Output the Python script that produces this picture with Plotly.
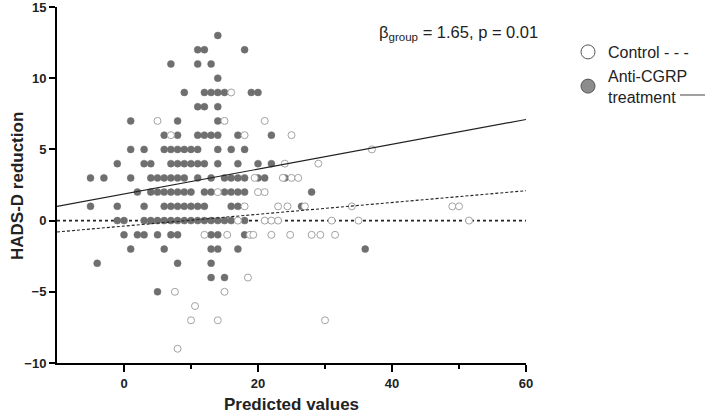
import plotly.graph_objects as go

# ---------------- data ----------------
# Anti-CGRP treatment (filled): x values per integer y level
treat_rows = {
    13: [14],
    12: [11, 12, 18],
    11: [7, 11, 13],
    10: [14],
    9: [9, 12, 13, 14, 15, 19, 20],
    8: [11, 12, 14],
    7: [1, 8, 14],
    6: [6, 8, 11, 12, 13, 14, 17, 22],
    5: [1, 3, 6, 7, 8, 9, 10, 11, 14, 16, 18],
    4: [-1, 3, 4, 7, 8, 9, 10, 11, 12, 14, 17, 20, 22],
    3: [-5, -3, 1, 4, 5, 6, 7, 8, 9, 11, 13, 15, 16, 17, 18, 20, 21, 24],
    2: [2, 4, 5, 6, 7, 8, 9, 10, 12, 13, 15, 16, 17, 18, 28],
    1: [-5, -1, 3, 6, 7, 8, 9, 10, 11, 12, 16, 17, 26.5],
    0: [-1, 0, 3, 4, 5, 6, 7, 8, 9, 10, 11, 12, 13, 14, 15, 16, 18],
    -1: [0, 2, 3, 5, 7, 8, 13, 14, 18],
    -2: [1, 6, 13, 14, 17, 36],
    -3: [-4, 8, 13],
    -4: [13, 15],
    -5: [5],
}
# Control (open)
control_rows = {
    9: [16],
    7: [5, 15, 21],
    6: [7, 18, 25],
    5: [37],
    4: [24, 29],
    3: [19.5, 23.7, 25, 26],
    2: [14, 20, 21],
    1: [18, 23, 24.4, 27, 34, 49, 50],
    0: [17, 21, 22, 23, 31, 35, 51.5],
    -1: [12, 15.4, 18.8, 19.3, 22, 24.8, 28, 29.3, 31.5],
    -4: [18.5],
    -5: [7.6, 15],
    -6: [10.6],
    -7: [10, 14, 30],
    -9: [8],
}
treat_x = [x for y, xs in treat_rows.items() for x in xs]
treat_y = [y for y, xs in treat_rows.items() for x in xs]
control_x = [x for y, xs in control_rows.items() for x in xs]
control_y = [y for y, xs in control_rows.items() for x in xs]

fit_x = [-10, 60]
treat_fit_y = [1.0, 7.1]
control_fit_y = [-0.8, 2.1]
zero_y = [0, 0]

x_ticks = [0, 20, 40, 60]
x_minor = [10, 30, 50]
y_ticks = [-10, -5, 0, 5, 10, 15]

FONT = "Liberation Sans, Arial, sans-serif"

# plot area in screen pixels
W, H = 709, 416
L, R, T, B = 57, 526, 7, 363
PW, PH = R - L, B - T


def px(xp):
    return (xp - L) / PW


def py(yp):
    return 1 - (yp - T) / PH


fig = go.Figure()
fig.add_trace(go.Scatter(x=fit_x, y=zero_y, mode="lines",
                         line=dict(color="#222", width=1.6, dash="dot"),
                         showlegend=False, hoverinfo="skip"))
fig.add_trace(go.Scatter(x=treat_x, y=treat_y, mode="markers",
                         marker=dict(size=7, color="#6f6f6f",
                                     line=dict(color="#6f6f6f", width=0.5)),
                         showlegend=False))
fig.add_trace(go.Scatter(x=control_x, y=control_y, mode="markers",
                         marker=dict(size=7, color="white",
                                     line=dict(color="#a3a3a3", width=1)),
                         showlegend=False))
fig.add_trace(go.Scatter(x=fit_x, y=treat_fit_y, mode="lines",
                         line=dict(color="#222", width=1.2),
                         showlegend=False, hoverinfo="skip"))
fig.add_trace(go.Scatter(x=fit_x, y=control_fit_y, mode="lines",
                         line=dict(color="#222", width=1.1, dash="3px,2px"),
                         showlegend=False, hoverinfo="skip"))

# legend entries
fig.add_trace(go.Scatter(x=[None], y=[None], mode="markers", name="Control - - -",
                         marker=dict(size=14, color="white",
                                     line=dict(color="#555", width=1))))
fig.add_trace(go.Scatter(x=[None], y=[None], mode="markers",
                         name="Anti-CGRP<br>treatment",
                         marker=dict(size=14, color="#8c8c8c",
                                     line=dict(color="#555", width=1))))

fig.add_annotation(xref="paper", yref="paper", x=px(377), y=py(33),
                   xanchor="left", yanchor="middle", showarrow=False,
                   text="β<sub>group</sub> = 1.65, p = 0.01",
                   font=dict(family=FONT, size=16.5, color="#222"))

# y-axis title
fig.add_annotation(xref="paper", yref="paper", x=px(18), y=py(186),
                   xanchor="center", yanchor="middle", showarrow=False,
                   textangle=-90, text="<b>HADS-D reduction</b>",
                   font=dict(family=FONT, size=17, color="#222"))

fig.add_shape(type="line", xref="paper", yref="paper",
              x0=px(680), x1=px(705), y0=py(95), y1=py(95),
              line=dict(color="#444", width=1))

fig.update_layout(
    width=W, height=H,
    margin=dict(l=L, r=W - R, t=T, b=H - B, pad=0),
    plot_bgcolor="white", paper_bgcolor="white",
    font=dict(family=FONT, color="#222"),
    legend=dict(x=px(568), y=py(35), xanchor="left", yanchor="top",
                font=dict(family=FONT, size=16, color="#222"),
                bgcolor="rgba(0,0,0,0)", tracegroupgap=0, itemsizing="trace"),
    xaxis=dict(range=[-10, 60], tickvals=x_ticks, showgrid=False, zeroline=False,
               automargin=False, ticklabeloverflow="allow",
               showline=True, linecolor="black", linewidth=2,
               ticks="outside", ticklen=7, tickwidth=2, tickcolor="black",
               tickfont=dict(family=FONT, size=13, weight="bold", color="#222"),
               minor=dict(tickvals=x_minor, ticks="outside", ticklen=4,
                          tickwidth=2, tickcolor="black", showgrid=False),
               title=dict(text="Predicted values", standoff=9,
                          font=dict(family=FONT, size=17, weight="bold", color="#222"))),
    yaxis=dict(range=[-10, 15], tickvals=y_ticks, showgrid=False, zeroline=False,
               automargin=False, ticklabeloverflow="allow",
               showline=True, linecolor="black", linewidth=2,
               ticks="outside", ticklen=6, tickwidth=2, tickcolor="black",
               tickfont=dict(family=FONT, size=13, weight="bold", color="#222")),
)

fig.write_html("out.html", config={"displayModeBar": False},
               post_script="document.body.style.margin='0';document.body.style.padding='0';")
